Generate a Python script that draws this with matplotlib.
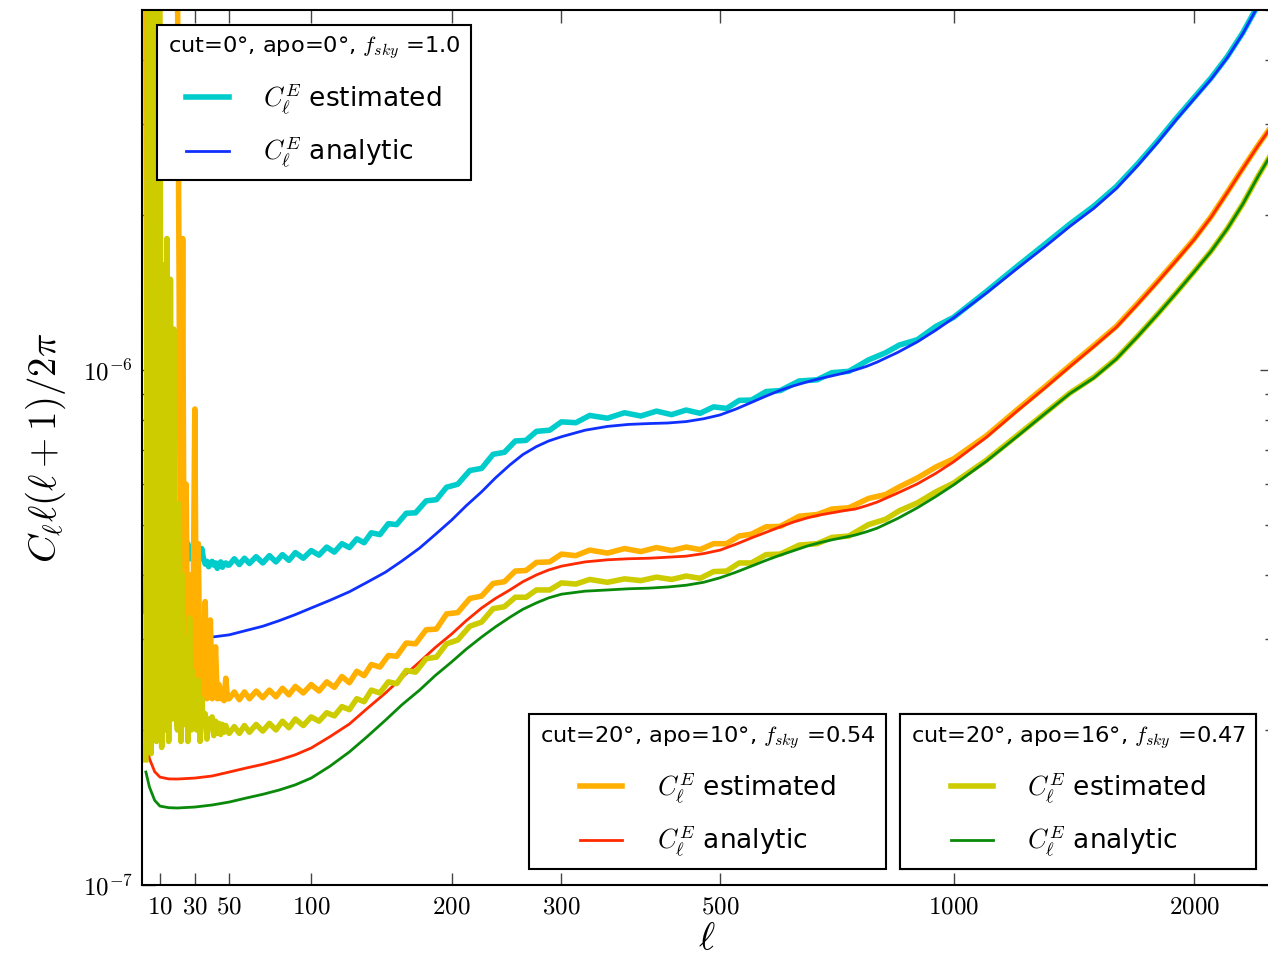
import numpy as np
import matplotlib
matplotlib.use('Agg')
import matplotlib.pyplot as plt
from matplotlib.ticker import FixedLocator, FixedFormatter, NullLocator, LogLocator, NullFormatter

plt.rcParams['font.family'] = ['DejaVu Sans']
plt.rcParams['mathtext.fontset'] = 'cm'

# multipoles of the low-ell part (one point per ell)
ell_low = np.arange(2, 50)

# estimated spectra at low ell, units of 1e-7
orange_low = [50, 1.9, 60, 70, 2.0, 80, 60, 2.1, 70, 80, 60, 90, 70, 85, 60, 75, 55, 70, 60, 14,
              2.5, 18, 2.4, 6, 2.3, 4, 2.4, 3.2, 8.4, 2.3, 4.6, 2.4, 3.0, 2.3, 3.55, 2.3, 2.6,
              3.27, 2.3, 2.5, 2.9, 2.3, 2.45, 2.3, 2.4, 2.28, 2.52, 2.3]
yellow_low = [1.75, 60, 75, 1.8, 55, 90, 1.9, 70, 45, 1.85, 16, 2.0, 18, 1.9, 15, 2.1, 12, 2.3,
              2.0, 5.5, 1.9, 4.0, 2.05, 3.0, 1.9, 3.3, 2.0, 2.6, 2.1, 2.0, 2.5, 1.9, 2.3, 2.05,
              2.15, 1.92, 2.1, 2.02, 2.12, 1.95, 2.08, 1.97, 2.06, 1.96, 2.05, 1.98, 2.04, 1.99]
cyan_low = [3.4, 6.0, 5.0, 4.5, 5.5, 4.6, 4.8, 5.0, 5.2, 4.7, 4.4, 4.8, 5.0, 4.6, 4.6, 4.9, 4.9,
            4.5, 4.3, 4.6, 4.7, 4.4, 4.4, 4.5, 4.6, 4.3, 4.3, 4.5, 4.55, 4.4, 4.4, 4.3, 4.5, 4.3,
            4.2, 4.25, 4.15, 4.2, 4.25, 4.18, 4.22, 4.12, 4.2, 4.24, 4.14, 4.2, 4.22, 4.18]

# estimated spectra above ell = 50
ell_hi = [50, 53, 56, 59, 62, 66, 70, 74, 78, 82, 86, 90, 95, 100, 105, 110, 115, 120, 125, 130,
          135, 140, 146, 152, 158, 165, 172, 180, 188, 196, 205, 215, 225, 235, 245, 255, 265,
          275, 288, 300, 315, 330, 350, 370, 390, 410, 430, 450, 470, 490, 510, 530, 550, 575,
          600, 635, 670, 700, 736, 780, 820, 854, 900, 950, 1000, 1100, 1200, 1300, 1400, 1500,
          1600, 1700, 1800, 1900, 2000, 2100, 2200, 2300, 2400, 2500]
cyan_hi = [4.18, 4.3, 4.19, 4.31, 4.21, 4.34, 4.22, 4.36, 4.24, 4.38, 4.27, 4.42, 4.31, 4.46,
           4.37, 4.53, 4.43, 4.6, 4.52, 4.7, 4.62, 4.83, 4.79, 5.03, 5.01, 5.27, 5.28, 5.57, 5.6,
           5.92, 6.0, 6.38, 6.44, 6.86, 6.92, 7.28, 7.3, 7.6, 7.64, 7.93, 7.9, 8.16, 8.06, 8.26,
           8.14, 8.32, 8.19, 8.36, 8.24, 8.48, 8.42, 8.73, 8.74, 9.08, 9.12, 9.52, 9.57, 9.88,
           9.94, 10.46, 10.8, 11.18, 11.45, 12.15, 12.65, 14.2, 15.85, 17.5, 19.2, 20.8, 22.7,
           25.1, 27.8, 30.8, 33.8, 36.9, 40.6, 45.2, 51.0, 57.2]
orange_hi = [2.3, 2.37, 2.29, 2.37, 2.3, 2.38, 2.31, 2.39, 2.32, 2.41, 2.34, 2.43, 2.36, 2.45,
             2.38, 2.48, 2.42, 2.54, 2.47, 2.6, 2.55, 2.68, 2.65, 2.79, 2.78, 2.95, 2.94, 3.13,
             3.14, 3.36, 3.38, 3.6, 3.64, 3.85, 3.88, 4.07, 4.08, 4.23, 4.24, 4.39, 4.36, 4.47,
             4.41, 4.5, 4.44, 4.52, 4.46, 4.53, 4.48, 4.6, 4.6, 4.76, 4.8, 4.96, 4.97, 5.2, 5.24,
             5.37, 5.4, 5.63, 5.73, 5.93, 6.17, 6.48, 6.72, 7.45, 8.35, 9.25, 10.2, 11.15, 12.15,
             13.45, 14.85, 16.35, 17.95, 19.85, 22.15, 24.65, 27.25, 29.85]
yellow_hi = [1.97, 2.03, 1.97, 2.04, 1.98, 2.05, 1.99, 2.06, 2.0, 2.08, 2.02, 2.1, 2.04, 2.12,
             2.08, 2.16, 2.13, 2.22, 2.19, 2.3, 2.27, 2.39, 2.36, 2.48, 2.46, 2.61, 2.59, 2.75,
             2.77, 2.94, 2.99, 3.18, 3.24, 3.44, 3.47, 3.62, 3.62, 3.74, 3.74, 3.86, 3.84, 3.92,
             3.87, 3.93, 3.9, 3.96, 3.92, 3.98, 3.94, 4.06, 4.07, 4.22, 4.22, 4.38, 4.39, 4.57,
             4.6, 4.73, 4.76, 5.01, 5.13, 5.33, 5.52, 5.8, 6.03, 6.68, 7.44, 8.22, 9.02, 9.68,
             10.52, 11.62, 12.82, 14.12, 15.52, 17.02, 18.82, 21.02, 23.72, 26.42]

# analytic spectra
ell_an = [2, 4, 7, 10, 15, 20, 30, 40, 50, 60, 70, 80, 90, 100, 112, 125, 137, 150, 162, 175,
          187, 200, 212, 225, 237, 250, 262, 275, 287, 300, 325, 350, 375, 400, 425, 450, 475,
          500, 525, 550, 575, 600, 625, 650, 675, 700, 725, 750, 775, 800, 850, 900, 950, 1000,
          1100, 1200, 1300, 1400, 1500, 1600, 1700, 1800, 1900, 2000, 2100, 2200, 2300, 2400,
          2500]
blue_an = [3.37, 3.28, 3.2, 3.15, 3.11, 3.08, 3.04, 3.03, 3.06, 3.12, 3.18, 3.26, 3.35, 3.45,
           3.57, 3.71, 3.87, 4.05, 4.26, 4.51, 4.79, 5.11, 5.45, 5.8, 6.17, 6.54, 6.85, 7.1,
           7.28, 7.42, 7.64, 7.77, 7.84, 7.87, 7.89, 7.94, 8.04, 8.18, 8.4, 8.65, 8.9, 9.13,
           9.32, 9.48, 9.62, 9.74, 9.86, 10.0, 10.16, 10.36, 10.82, 11.34, 11.95, 12.62, 14.1,
           15.7, 17.3, 19.0, 20.6, 22.5, 24.9, 27.6, 30.6, 33.6, 36.7, 40.4, 45.0, 50.8, 57.0]
red_an = [1.887, 1.76, 1.66, 1.62, 1.607, 1.606, 1.613, 1.628, 1.657, 1.687, 1.715, 1.749, 1.79,
          1.845, 1.94, 2.054, 2.2, 2.36, 2.53, 2.71, 2.89, 3.07, 3.26, 3.45, 3.6, 3.74, 3.88,
          4.0, 4.09, 4.16, 4.24, 4.28, 4.3, 4.31, 4.33, 4.35, 4.4, 4.47, 4.59, 4.72, 4.84, 4.96,
          5.07, 5.16, 5.23, 5.28, 5.33, 5.37, 5.45, 5.54, 5.77, 6.01, 6.3, 6.63, 7.4, 8.3, 9.2,
          10.15, 11.1, 12.1, 13.4, 14.8, 16.3, 17.9, 19.8, 22.1, 24.6, 27.2, 29.8]
green_an = [1.657, 1.55, 1.46, 1.423, 1.413, 1.411, 1.417, 1.43, 1.449, 1.475, 1.5, 1.529, 1.565,
            1.613, 1.7, 1.813, 1.94, 2.09, 2.24, 2.39, 2.55, 2.71, 2.87, 3.03, 3.17, 3.31, 3.43,
            3.53, 3.61, 3.67, 3.72, 3.74, 3.76, 3.77, 3.79, 3.82, 3.87, 3.95, 4.05, 4.16, 4.27,
            4.37, 4.46, 4.55, 4.62, 4.68, 4.73, 4.78, 4.85, 4.93, 5.15, 5.4, 5.68, 5.98, 6.65,
            7.41, 8.2, 9.0, 9.65, 10.5, 11.6, 12.8, 14.1, 15.5, 17.0, 18.8, 21.0, 23.7, 26.4]

xticks = [10, 30, 50, 100, 200, 300, 500, 1000, 2000]
titles = ['cut=0°, apo=0°, $f_{sky}$ =1.0',
          'cut=20°, apo=10°, $f_{sky}$ =0.54',
          'cut=20°, apo=16°, $f_{sky}$ =0.47']
labels = [r'$C_\ell^E$ estimated', r'$C_\ell^E$ analytic']

unit = 1e-7
ell_est = np.concatenate([ell_low, ell_hi])
est = [np.concatenate([cyan_low, cyan_hi]) * unit,
       np.concatenate([orange_low, orange_hi]) * unit,
       np.concatenate([yellow_low, yellow_hi]) * unit]
an = [np.array(blue_an) * unit, np.array(red_an) * unit, np.array(green_an) * unit]

est_colors = ['#00CCCC', '#FFB000', '#CCCC00']
an_colors = ['#1030FF', '#FF2A00', '#0A8A0A']

fig = plt.figure(figsize=(12.68, 9.56), dpi=100)
ax = fig.add_axes([142.4 / 1268, 71 / 956, 1129.6 / 1268, 875 / 956])

pairs = []
for e, a, ce, ca in zip(est, an, est_colors, an_colors):
    le, = ax.plot(ell_est, e, color=ce, lw=4)
    la, = ax.plot(ell_an, a, color=ca, lw=2)
    pairs.append((le, la))

ax.set_xscale('asinh', linear_width=200)
ax.set_yscale('log')
ax.set_xlim(0, 2500)
ax.set_ylim(1e-7, 5e-6)

ax.xaxis.set_major_locator(FixedLocator(xticks))
ax.xaxis.set_major_formatter(FixedFormatter([r'$%d$' % t for t in xticks]))
ax.xaxis.set_minor_locator(NullLocator())
ax.yaxis.set_major_locator(FixedLocator([1e-7, 1e-6]))
ax.yaxis.set_major_formatter(FixedFormatter([r'$10^{-7}$', r'$10^{-6}$']))
ax.yaxis.set_minor_locator(LogLocator(base=10, subs=np.arange(2, 10)))
ax.yaxis.set_minor_formatter(NullFormatter())

ax.tick_params(which='both', direction='in', top=True, right=True, width=1, color='#444444')
ax.tick_params(which='major', length=9, labelsize=18, pad=7)
ax.tick_params(which='minor', length=5)
for s in ax.spines.values():
    s.set_linewidth(1.5)

ax.set_xlabel(r'$\ell$', fontsize=28, labelpad=0)
ax.set_ylabel(r'$C_\ell\ell(\ell+1)/2\pi$', fontsize=28)
ax.yaxis.set_label_coords(-0.066, 0.5)

anchors = [('upper left', (0.0129, 0.983)),
           ('lower left', (0.3422, 0.0183)),
           ('lower left', (0.6707, 0.0183))]
for (le, la), title, (loc, anchor) in zip(pairs, titles, anchors):
    leg = ax.legend([le, la], labels, title=title, loc=loc, bbox_to_anchor=anchor,
                    borderaxespad=0, fancybox=False, framealpha=1, fontsize=19,
                    title_fontsize=16.2, handlelength=1.6, handletextpad=1.3,
                    labelspacing=0.7, borderpad=0.4)
    leg.get_frame().set_edgecolor('black')
    leg.get_frame().set_linewidth(1.5)
    ax.add_artist(leg)

fig.savefig('out.png', dpi=100)
